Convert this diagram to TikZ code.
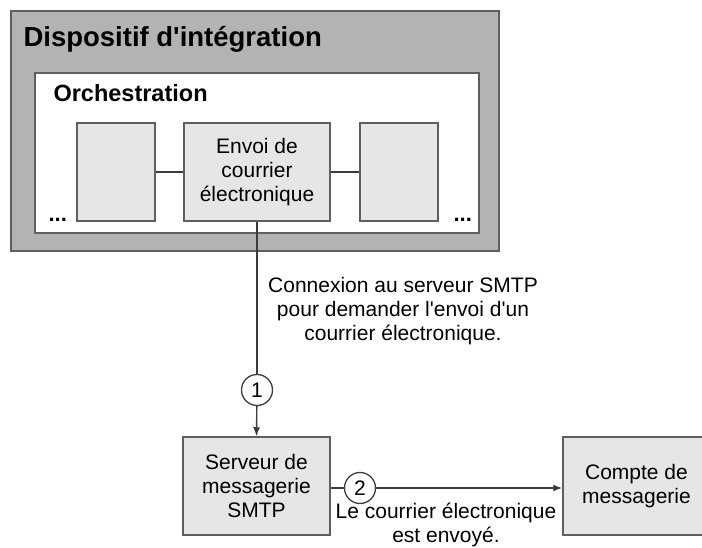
\documentclass[tikz,border=0pt]{standalone}
\usepackage{fontspec}
\setmainfont{Liberation Sans}
\usetikzlibrary{arrows.meta}
\definecolor{grisfond}{HTML}{B3B3B3}
\definecolor{gristache}{HTML}{E6E6E6}
\definecolor{bordure}{HTML}{5F5F5F}
\definecolor{trait}{HTML}{3C3C3C}
\begin{document}
\begin{tikzpicture}[x=1pt,y=-1pt,>={Latex[length=9pt,width=7pt]},
	every node/.style={font=\fontsize{21}{24}\selectfont},
	tache/.style={draw=bordure,fill=gristache,line width=1.5pt,inner sep=0pt,align=center,minimum height=98pt},
	etape/.style={circle,draw=trait,fill=white,line width=1.3pt,inner sep=0pt,minimum size=31pt},
	lien/.style={draw=trait,line width=1.4pt}]
	\useasboundingbox (0,0) rectangle (702,548);
	% cadres
	\draw[draw=bordure,fill=grisfond,line width=2pt] (11,11) rectangle (499,251);
	\draw[draw=bordure,fill=white,line width=2pt] (35,73) rectangle (479,233);
	\node[anchor=base west,font=\fontsize{27.5}{30}\selectfont\bfseries] (dispositif) at (20,47) {Dispositif d\textquotesingle intégration};
	\node[anchor=base west,font=\fontsize{23.5}{26}\selectfont\bfseries] (orch) at (50,102) {Orchestration};
	% taches
	\node[tache,minimum width=78pt] (gauche) at (116,172) {};
	\node[tache,minimum width=146pt] (envoi) at (257,172) {Envoi de\\courrier\\électronique};
	\node[tache,minimum width=78pt] (droite) at (399,172) {};
	\node[anchor=base west,font=\fontsize{22}{24}\selectfont\bfseries] (pointsg) at (45,222) {...};
	\node[anchor=base west,font=\fontsize{22}{24}\selectfont\bfseries] (pointsd) at (450,222) {...};
	\draw[lien] (gauche) -- (envoi);
	\draw[lien] (envoi) -- (droite);
	% serveur
	\node[tache,minimum width=147pt] (smtp) at (256.5,486) {Serveur de\\messagerie\\SMTP};
	\node[tache,minimum width=147pt] (compte) at (636.5,486) {Compte de\\messagerie};
	\node[etape] (un) at (257,390) {1};
	\node[etape] (deux) at (360,488) {2};
	\draw[lien] (envoi.south) -- (un);
	\draw[lien,->] (un) -- (smtp.north);
	\draw[lien] (smtp.east |- deux) -- (deux);
	\draw[lien,->] (deux) -- (compte.west |- deux);
	\node[align=center] (texteun) at (403,311) {Connexion au serveur SMTP\\pour demander l\textquotesingle envoi d\textquotesingle un\\courrier électronique.};
	\node[align=center] (textedeux) at (446,525) {Le courrier électronique\\est envoyé.};
\end{tikzpicture}
\end{document}
